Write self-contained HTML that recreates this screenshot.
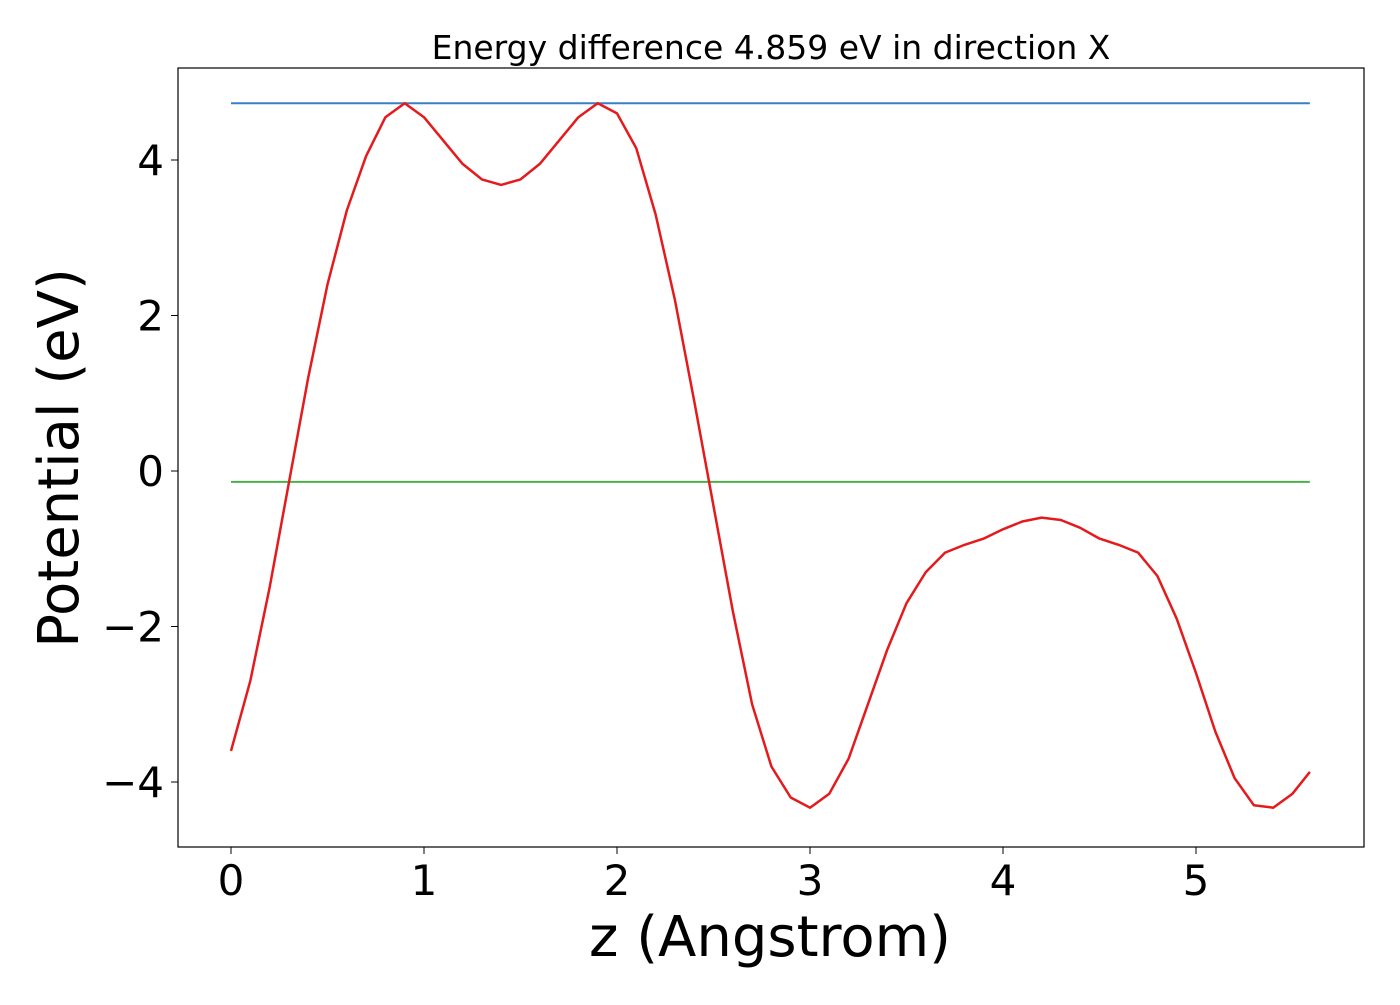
<!DOCTYPE html>
<html><head><meta charset="utf-8"><style>
html,body{margin:0;padding:0;background:#fff;}
svg text{font-family:"DejaVu Sans","Liberation Sans",sans-serif;fill:#000;}
</style></head><body>
<svg id="chart" width="1400" height="1000" xmlns="http://www.w3.org/2000/svg">
<rect x="0" y="0" width="1400" height="1000" fill="#fff"/>
<text x="771" y="59" font-size="33" text-anchor="middle">Energy difference 4.859 eV in direction X</text>
<g id="lines"></g>
<rect x="178" y="68" width="1186" height="779" fill="none" stroke="#000" stroke-width="1.2"/>
<g id="xticks"></g><g id="yticks"></g>
<text x="770" y="956" font-size="56" text-anchor="middle">z (Angstrom)</text>
<text x="0" y="0" font-size="56" text-anchor="middle" transform="translate(78,458) rotate(-90)">Potential (eV)</text>
</svg>
<script>
const zValues=[0,0.1,0.2,0.3,0.4,0.5,0.6,0.7,0.8,0.9,1.0,1.1,1.2,1.3,1.4,1.5,1.6,1.7,1.8,1.9,2.0,2.1,2.2,2.3,2.4,2.5,2.6,2.7,2.8,2.9,3.0,3.1,3.2,3.3,3.4,3.5,3.6,3.7,3.8,3.9,4.0,4.1,4.2,4.3,4.4,4.5,4.6,4.7,4.8,4.9,5.0,5.1,5.2,5.3,5.4,5.5,5.59];
const potential=[-3.6,-2.7,-1.5,-0.15,1.2,2.4,3.35,4.05,4.55,4.73,4.55,4.25,3.95,3.75,3.68,3.75,3.95,4.25,4.55,4.73,4.6,4.15,3.3,2.2,0.9,-0.45,-1.8,-3.0,-3.8,-4.2,-4.33,-4.15,-3.7,-3.0,-2.3,-1.7,-1.3,-1.05,-0.95,-0.87,-0.75,-0.65,-0.6,-0.63,-0.73,-0.87,-0.95,-1.05,-1.35,-1.9,-2.6,-3.35,-3.95,-4.3,-4.33,-4.15,-3.87];
const vacuumLevel=4.73;
const fermiLevel=-0.14;
const xTickValues=[0,1,2,3,4,5];
const yTickValues=[4,2,0,-2,-4];
const yTickLabels=["4","2","0","\u22122","\u22124"];
const NS="http://www.w3.org/2000/svg";
function X(v){return 231+v*193;}
function Y(v){return 471-v*77.75;}
const lines=document.getElementById('lines');
function hline(val,color,name){
 const l=document.createElementNS(NS,'line');
 l.setAttribute('x1',X(zValues[0]));l.setAttribute('x2',X(zValues[zValues.length-1]));
 l.setAttribute('y1',Y(val));l.setAttribute('y2',Y(val));
 l.setAttribute('stroke',color);l.setAttribute('stroke-width','2');
 
 
 lines.appendChild(l);
}
hline(vacuumLevel,'#3a7fc6','vacuum-level-line');
hline(fermiLevel,'#4daf4a','fermi-level-line');
const p=document.createElementNS(NS,'path');
p.setAttribute('d',zValues.map((z,i)=>(i?'L':'M')+X(z).toFixed(1)+','+Y(potential[i]).toFixed(1)).join(''));
p.setAttribute('fill','none');p.setAttribute('stroke','#e41a1c');p.setAttribute('stroke-width','2.5');p.setAttribute('stroke-linejoin','round');


lines.appendChild(p);
const xt=document.getElementById('xticks');
xTickValues.forEach(v=>{
 const t=document.createElementNS(NS,'line');
 t.setAttribute('x1',X(v));t.setAttribute('x2',X(v));t.setAttribute('y1',847);t.setAttribute('y2',854);t.setAttribute('stroke','#000');
 
 
 xt.appendChild(t);
 const s=document.createElementNS(NS,'text');
 s.setAttribute('x',X(v));s.setAttribute('y',895);s.setAttribute('font-size','42');s.setAttribute('text-anchor','middle');
 s.textContent=String(v);
 
 
 xt.appendChild(s);
});
const yt=document.getElementById('yticks');
yTickValues.forEach((v,i)=>{
 const t=document.createElementNS(NS,'line');
 t.setAttribute('x1',171);t.setAttribute('x2',178);t.setAttribute('y1',Y(v));t.setAttribute('y2',Y(v));t.setAttribute('stroke','#000');
 
 
 yt.appendChild(t);
 const s=document.createElementNS(NS,'text');
 s.setAttribute('x',164);s.setAttribute('y',Y(v)+15);s.setAttribute('font-size','42');s.setAttribute('text-anchor','end');
 s.textContent=yTickLabels[i];
 
 
 yt.appendChild(s);
});
</script>
</body></html>
